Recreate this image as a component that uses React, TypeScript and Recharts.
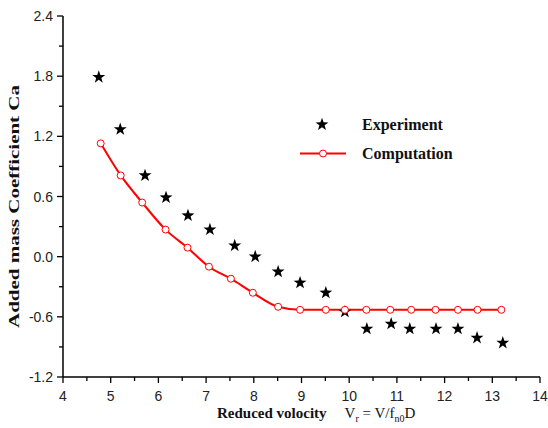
import React from "react";
import {
  ComposedChart,
  Line,
  Scatter,
  XAxis,
  YAxis,
  Legend,
  Label,
} from "recharts";

// reduced velocity / added mass coefficient
const expX = [4.75, 5.2, 5.72, 6.16, 6.62, 7.08, 7.6, 8.03, 8.51, 8.97, 9.51, 9.91, 10.37, 10.88, 11.27, 11.82, 12.28, 12.68, 13.22];
const expY = [1.79, 1.27, 0.81, 0.59, 0.41, 0.27, 0.11, 0.0, -0.15, -0.26, -0.36, -0.55, -0.72, -0.67, -0.72, -0.72, -0.72, -0.81, -0.86];

const compX = [4.79, 5.21, 5.66, 6.15, 6.61, 7.06, 7.52, 7.98, 8.51, 8.97, 9.51, 9.91, 10.36, 10.86, 11.3, 11.81, 12.28, 12.69, 13.19];
const compY = [1.13, 0.81, 0.54, 0.27, 0.09, -0.1, -0.22, -0.36, -0.5, -0.53, -0.53, -0.53, -0.53, -0.53, -0.53, -0.53, -0.53, -0.53, -0.53];

const xTicks = [4, 4.5, 5, 5.5, 6, 6.5, 7, 7.5, 8, 8.5, 9, 9.5, 10, 10.5, 11, 11.5, 12, 12.5, 13, 13.5, 14];
const yTicks = [-1.2, -0.9, -0.6, -0.3, 0, 0.3, 0.6, 0.9, 1.2, 1.5, 1.8, 2.1, 2.4];

const expData = expX.map((x, i) => ({ x, y: expY[i] }));
const compData = compX.map((x, i) => ({ x, y: compY[i] }));

const tickFont = "'Liberation Sans', Arial, sans-serif";
const titleFont = "'Liberation Serif', 'Times New Roman', serif";

function starPath(cx: number, cy: number, ro: number, ri: number) {
  let d = "";
  for (let i = 0; i < 10; i++) {
    const r = i % 2 === 0 ? ro : ri;
    const a = -Math.PI / 2 + (i * Math.PI) / 5;
    d += (i === 0 ? "M" : "L") + (cx + r * Math.cos(a)).toFixed(2) + "," + (cy + r * Math.sin(a)).toFixed(2);
  }
  return d + "Z";
}

const StarShape = (props: any) => {
  const { cx, cy } = props;
  if (cx == null || cy == null) return null;
  return <path d={starPath(cx, cy, 6.8, 2.7)} fill="#000" />;
};

const XTick = (props: any) => {
  const { x, y, payload } = props;
  const major = Number.isInteger(payload.value);
  return (
    <g>
      <line x1={x} x2={x} y1={y} y2={y + (major ? 6 : 4)} stroke="#000" strokeWidth={1.3} />
      {major && (
        <text x={x} y={y + 24} textAnchor="middle" fontSize={14} fontFamily={tickFont} fill="#222">
          {payload.value}
        </text>
      )}
    </g>
  );
};

const YTick = (props: any) => {
  const { x, y, payload } = props;
  const major = Math.round(payload.value * 10) % 6 === 0;
  return (
    <g>
      <line x1={x - (major ? 6 : 4)} x2={x} y1={y} y2={y} stroke="#000" strokeWidth={1.3} />
      {major && (
        <text x={x - 10} y={y + 5} textAnchor="end" fontSize={14} fontFamily={tickFont} fill="#222">
          {payload.value.toFixed(1)}
        </text>
      )}
    </g>
  );
};

const LegendBox = () => (
  <div style={{ fontFamily: titleFont, fontWeight: "bold", fontSize: 16, color: "#111" }}>
    <div style={{ display: "flex", alignItems: "center", height: 29 }}>
      <svg width={67} height={29}>
        <path d={starPath(27, 14.5, 6.8, 2.7)} fill="#000" />
      </svg>
      <span>Experiment</span>
    </div>
    <div style={{ display: "flex", alignItems: "center", height: 29 }}>
      <svg width={67} height={29}>
        <line x1={5} x2={51} y1={14.5} y2={14.5} stroke="#ff0000" strokeWidth={2} />
        <circle cx={28} cy={14.5} r={3.5} fill="#fff" stroke="#ff0000" strokeWidth={1} />
      </svg>
      <span>Computation</span>
    </div>
  </div>
);

const XTitle = () => (
  <text x={217} y={418} fontFamily={titleFont} fontSize={15} fill="#111">
    <tspan fontWeight="bold">Reduced volocity</tspan>
    <tspan dx={18}>V</tspan>
    <tspan fontSize={10} dy={4}>r</tspan>
    <tspan dy={-4}> = V/f</tspan>
    <tspan fontSize={10} dy={4}>n0</tspan>
    <tspan dy={-4}>D</tspan>
  </text>
);

const YTitle = () => (
  <text
    x={18.5}
    y={206.5}
    transform="rotate(-90 18.5 206.5)"
    textAnchor="middle"
    fontFamily={titleFont}
    fontWeight="bold"
    fontSize={15}
    fill="#111"
    textLength={243}
    lengthAdjust="spacingAndGlyphs"
  >
    Added mass Coefficient  Ca
  </text>
);

export default function App() {
  return (
    <div style={{ position: "absolute", left: 0, top: 0, background: "#fff" }}>
      <ComposedChart width={548} height={428} margin={{ top: 16, right: 8, bottom: 0, left: 0 }}>
        <XAxis
          type="number"
          dataKey="x"
          domain={[4, 14]}
          ticks={xTicks}
          interval={0}
          allowDataOverflow
          height={51}
          tickSize={0}
          tickMargin={0}
          tickLine={false}
          tick={<XTick />}
          axisLine={{ stroke: "#000", strokeWidth: 1.5 }}
        >
          <Label content={<XTitle />} />
        </XAxis>
        <YAxis
          type="number"
          dataKey="y"
          domain={[-1.2, 2.4]}
          ticks={yTicks}
          interval={0}
          allowDataOverflow
          width={63}
          tickSize={0}
          tickMargin={0}
          tickLine={false}
          tick={<YTick />}
          axisLine={{ stroke: "#000", strokeWidth: 1.5 }}
        >
          <Label content={<YTitle />} />
        </YAxis>
        <Legend
          layout="horizontal"
          verticalAlign="middle"
          content={<LegendBox />}
          wrapperStyle={{ left: 295, top: 110, width: 200 }}
        />
        <Scatter data={expData} dataKey="y" shape={<StarShape />} isAnimationActive={false} />
        <Line
          data={compData}
          dataKey="y"
          type="monotone"
          stroke="#ff0000"
          strokeWidth={2}
          dot={{ r: 3.5, fill: "#fff", stroke: "#ff0000", strokeWidth: 1 }}
          activeDot={false}
          isAnimationActive={false}
        />
      </ComposedChart>
    </div>
  );
}
